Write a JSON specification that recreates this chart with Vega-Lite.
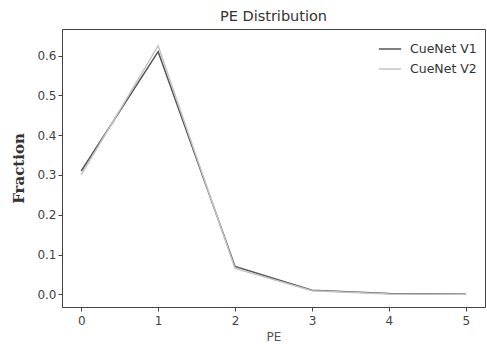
{
  "$schema": "https://vega.github.io/schema/vega-lite/v6.json",
  "width": 423,
  "height": 278,
  "autosize": {"type": "none"},
  "padding": {"left": 62, "top": 29, "right": 2, "bottom": 41},
  "background": "white",
  "title": {"text": "PE Distribution", "font": "DejaVu Sans", "fontSize": 14.5, "fontWeight": "normal", "color": "#333", "offset": 5},
  "config": {
    "view": {"stroke": "#444", "strokeWidth": 1},
    "axis": {"grid": false, "domainColor": "#444", "tickColor": "#444", "labelColor": "#444", "labelFont": "DejaVu Sans", "labelFontSize": 12, "tickSize": 4}
  },
  "data": {"values": [
    {"PE": 0, "Fraction": 0.31, "Model": "CueNet V1"},
    {"PE": 1, "Fraction": 0.61, "Model": "CueNet V1"},
    {"PE": 2, "Fraction": 0.07, "Model": "CueNet V1"},
    {"PE": 3, "Fraction": 0.01, "Model": "CueNet V1"},
    {"PE": 4, "Fraction": 0.002, "Model": "CueNet V1"},
    {"PE": 5, "Fraction": 0.001, "Model": "CueNet V1"},
    {"PE": 0, "Fraction": 0.30, "Model": "CueNet V2"},
    {"PE": 1, "Fraction": 0.625, "Model": "CueNet V2"},
    {"PE": 2, "Fraction": 0.065, "Model": "CueNet V2"},
    {"PE": 3, "Fraction": 0.009, "Model": "CueNet V2"},
    {"PE": 4, "Fraction": 0.001, "Model": "CueNet V2"},
    {"PE": 5, "Fraction": 0.0, "Model": "CueNet V2"}
  ]},
  "mark": {"type": "line", "strokeWidth": 1.5},
  "encoding": {
    "x": {"field": "PE", "type": "quantitative", "scale": {"domain": [-0.25, 5.25], "nice": false, "zero": false},
      "axis": {"values": [0, 1, 2, 3, 4, 5], "title": "PE", "titleFont": "DejaVu Sans", "titleFontSize": 12, "titleFontWeight": "normal", "titleColor": "#555", "format": "d", "labelPadding": 4, "titlePadding": 5}},
    "y": {"field": "Fraction", "type": "quantitative", "scale": {"domain": [-0.032, 0.667], "nice": false, "zero": false},
      "axis": {"values": [0, 0.1, 0.2, 0.3, 0.4, 0.5, 0.6], "format": ".1f", "title": "Fraction", "titleFont": "DejaVu Serif", "titleFontSize": 15, "titleFontWeight": "bold", "titleColor": "#333", "titlePadding": 10}},
    "color": {"field": "Model", "type": "nominal", "scale": {"domain": ["CueNet V1", "CueNet V2"], "range": ["#555555", "#c4c4c4"]},
      "legend": {"orient": "top-right", "title": null, "labelFont": "DejaVu Sans", "labelFontSize": 12.5, "labelColor": "#333", "symbolType": "stroke", "symbolStrokeWidth": 1.5, "symbolSize": 500, "offset": 8, "rowPadding": 1, "labelOffset": 8}}
  }
}
